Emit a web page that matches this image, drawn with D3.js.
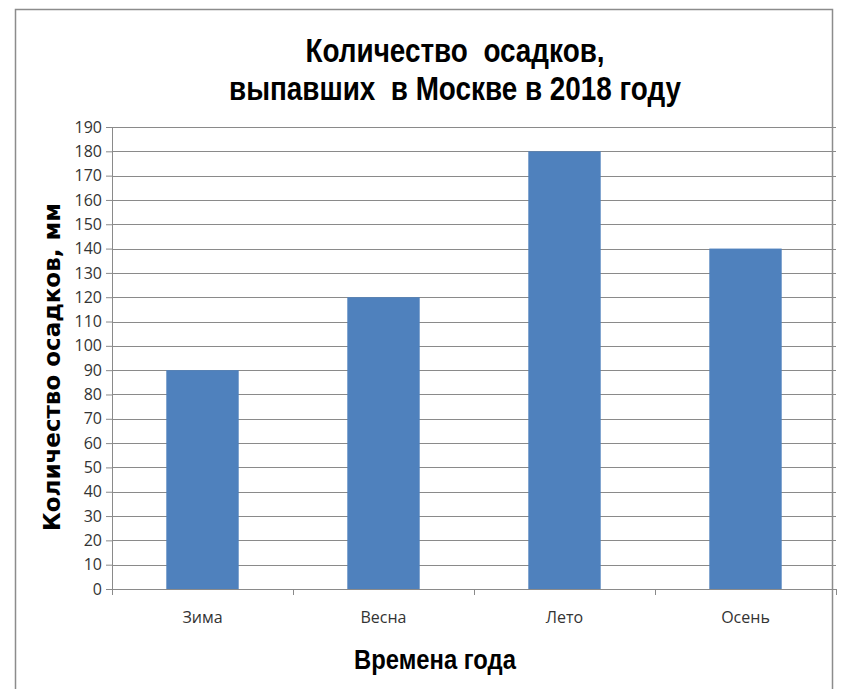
<!DOCTYPE html>
<html>
<head>
<meta charset="UTF-8">
<script src="https://d3js.org/d3.v7.min.js"></script>
<style>
  body { margin: 0; background: #fff; }
</style>
</head>
<body>
<svg width="841" height="689"></svg>
<script>
    // данные
    var seasons = ["Зима", "Весна", "Лето", "Осень"];
    var precip = [90, 120, 180, 140];
    var yTicks = d3.range(0, 200, 10);
    var titleLines = ["Количество  осадков,", "выпавших  в Москве в 2018 году"];
    var yTitle = "Количество осадков, мм";
    var xTitle = "Времена года";

    var svg = d3.select("svg");
    var marge = {top: 127, left: 112};
    var innerW = 836 - marge.left;
    var innerH = 589 - marge.top;

    // рамка диаграммы
    svg.append("path")
        .attr("d", "M15.5,700 V9.5 H832.5 V700")
        .attr("fill", "none")
        .attr("stroke", "#8c8c8c")
        .attr("stroke-width", 1.5);

    var g = svg.append("g")
        .attr("transform", "translate(" + marge.left + "," + marge.top + ")");

    var xScale = d3.scaleBand()
        .domain(seasons)
        .range([0, innerW])
        .paddingInner(0.6)
        .paddingOuter(0.3);
    var yScale = d3.scaleLinear()
        .domain([0, 190])
        .range([innerH, 0]);

    // сетка
    g.append("g")
        .selectAll("line")
        .data(yTicks.filter(function(d){ return d > 0; }))
        .enter().append("line")
        .attr("x1", 0)
        .attr("x2", innerW)
        .attr("y1", function(d){ return Math.round(yScale(d)) + 0.5; })
        .attr("y2", function(d){ return Math.round(yScale(d)) + 0.5; })
        .attr("stroke", "#8a8a8a")
        .attr("stroke-width", 1);

    // столбцы
    g.selectAll(".bar")
        .data(precip)
        .enter().append("rect")
        .attr("class", "bar")
        .attr("x", function(d, i){ return xScale(seasons[i]); })
        .attr("width", xScale.bandwidth())
        .attr("y", function(d){ return yScale(d); })
        .attr("height", function(d){ return innerH - yScale(d); })
        .attr("fill", "#4f81bd");

    // ось Y
    var yAxis = d3.axisLeft(yScale)
        .tickValues(yTicks)
        .tickSize(6)
        .tickPadding(4)
        .tickFormat(d3.format("d"));
    var ya = g.append("g").call(yAxis);
    ya.select(".domain").attr("stroke", "#8a8a8a");
    ya.selectAll(".tick line").attr("stroke", "#8a8a8a");
    ya.selectAll("text")
        .attr("fill", "#333")
        .style("font-family", "'Open Sans', sans-serif")
        .style("font-size", "16px");

    // ось X
    var step = innerW / seasons.length;
    var xa = g.append("g").attr("transform", "translate(0," + innerH + ")");
    xa.append("line")
        .attr("x1", 0).attr("x2", innerW)
        .attr("y1", 0.5).attr("y2", 0.5)
        .attr("stroke", "#8a8a8a");
    xa.selectAll(".xt")
        .data(d3.range(seasons.length + 1))
        .enter().append("line")
        .attr("x1", function(i){ return Math.round(i * step) + 0.5; })
        .attr("x2", function(i){ return Math.round(i * step) + 0.5; })
        .attr("y1", 0).attr("y2", 6)
        .attr("stroke", "#8a8a8a");
    xa.selectAll(".xl")
        .data(seasons)
        .enter().append("text")
        .attr("x", function(d){ return xScale(d) + xScale.bandwidth() / 2; })
        .attr("y", 34)
        .attr("text-anchor", "middle")
        .attr("fill", "#333")
        .style("font-family", "'Open Sans', sans-serif")
        .style("font-size", "16px")
        .text(function(d){ return d; });

    // заголовок (узкий шрифт — сжимаем по горизонтали)
    svg.append("g")
        .attr("transform", "translate(455,0) scale(0.82,1)")
        .append("text")
        .attr("text-anchor", "middle")
        .style("font-family", "'Liberation Sans', Arial, sans-serif")
        .style("font-weight", "bold")
        .style("font-size", "34px")
        .selectAll("tspan")
        .data(titleLines)
        .enter().append("tspan")
        .attr("x", 0)
        .attr("y", function(d, i){ return 62 + i * 38; })
        .style("white-space", "pre")
        .text(function(d){ return d; });

    // подписи осей
    svg.append("text")
        .attr("transform", "translate(60,367) rotate(-90)")
        .attr("text-anchor", "middle")
        .style("font-family", "'DejaVu Sans', Verdana, sans-serif")
        .style("font-weight", "bold")
        .style("font-size", "23px")
        .text(yTitle);

    svg.append("g")
        .attr("transform", "translate(435,669) scale(0.85,1)")
        .append("text")
        .attr("text-anchor", "middle")
        .style("font-family", "'Liberation Sans', Arial, sans-serif")
        .style("font-weight", "bold")
        .style("font-size", "28px")
        .text(xTitle);
</script>
</body>
</html>
